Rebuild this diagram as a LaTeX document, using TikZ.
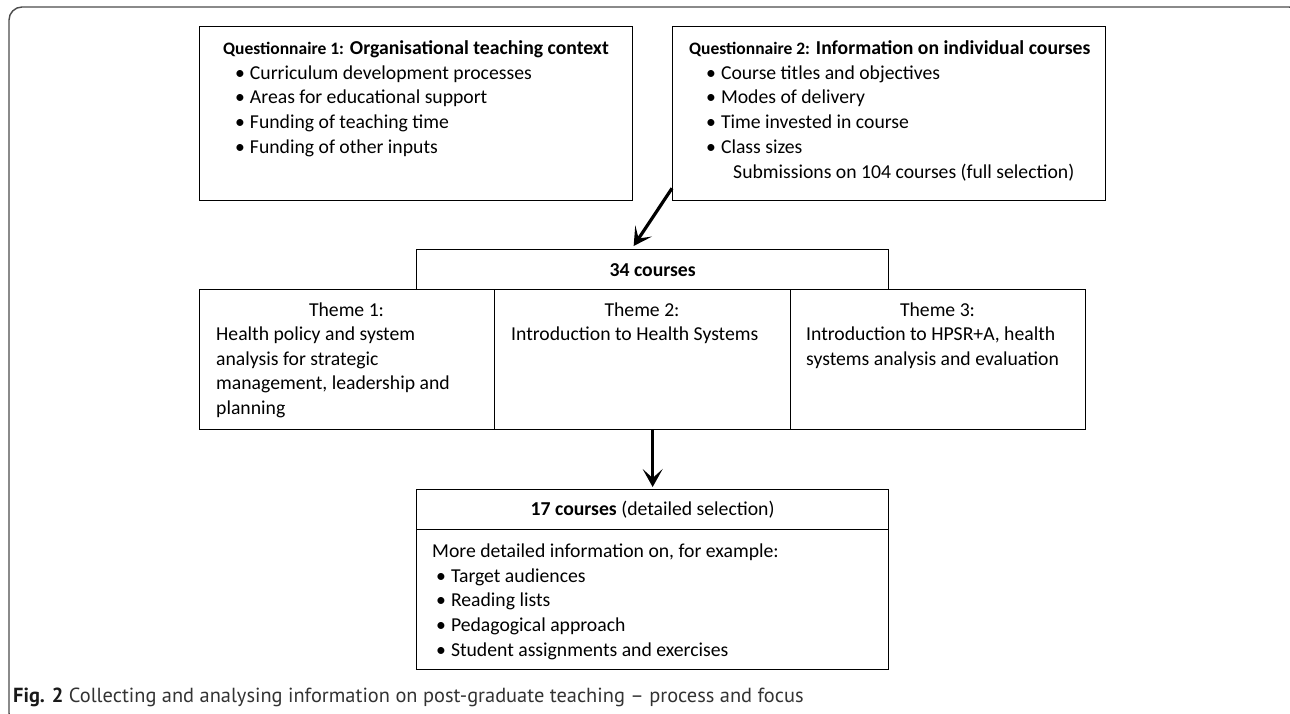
\documentclass[tikz,border=0pt]{standalone}
\usepackage{fontspec}
\setmainfont{Carlito}
\newfontfamily\capfont{PT Sans}
\usetikzlibrary{arrows.meta}

\newcommand{\bul}[1]{\hspace*{#1}\textbullet\hspace{5pt}}

\tikzset{
  box/.style={draw, line width=1.3pt, inner sep=0pt, anchor=north west,
    font={\fontsize{19.7}{24.5}\selectfont}},
  txt/.style={inner sep=0pt, anchor=north west, align=left,
    font={\fontsize{19.7}{24.5}\selectfont}},
  list/.style={txt, font={\fontsize{19.7}{24.9}\selectfont}},
  head/.style={inner sep=0pt, anchor=base, font={\fontsize{19.7}{24.5}\selectfont}},
  arr/.style={line width=3.2pt, -{Stealth[length=18pt,width=20pt,inset=9pt]}},
}

\begin{document}
\begin{tikzpicture}[x=1pt,y=-1pt]

\useasboundingbox (0,0) rectangle (1290,713);
\begin{scope}
\clip (0,0) rectangle (1290,713);
\draw[black!70, line width=1.4pt, rounded corners=13pt] (9,7) rectangle (1302,726);
\end{scope}

\node[box, minimum width=433pt, minimum height=174pt] (Q1) at (199,26) {};
\node[box, minimum width=433pt, minimum height=174pt] (Q2) at (672,26) {};
\node[box, minimum width=472pt, minimum height=40pt] (C34) at (416,249) {\bfseries 34 courses};
\node[box, minimum width=295pt, minimum height=140pt] (T1) at (199,289) {};
\node[box, minimum width=296pt, minimum height=140pt] (T2) at (494,289) {};
\node[box, minimum width=295pt, minimum height=140pt] (T3) at (790,289) {};
\node[box, minimum width=472pt, minimum height=40pt] (C17) at (416,489) {\textbf{17 courses} (detailed selection)};
\node[box, minimum width=472pt, minimum height=140pt] (D17) at (416,529) {};

\node[list] (q1) at (223,36.5) {\strut{\fontsize{17.5}{24.9}\selectfont\bfseries Questionnaire 1:} \textbf{Organisational teaching context}\\
  \bul{12pt}Curriculum development processes\\
  \bul{12pt}Areas for educational support\\
  \bul{12pt}Funding of teaching time\\
  \bul{12pt}Funding of other inputs};
\node[list] (q2) at (689,36.5) {\strut{\fontsize{17.5}{24.9}\selectfont\bfseries Questionnaire 2:} \textbf{Information on individual courses}\\
  \bul{17pt}Course titles and objectives\\
  \bul{17pt}Modes of delivery\\
  \bul{17pt}Time invested in course\\
  \bul{17pt}Class sizes\\
  \hspace*{44pt}Submissions on 104 courses (full selection)};

\node[head] (t1) at (346.5,316) {Theme 1:};
\node[head] (t2) at (642,316) {Theme 2:};
\node[head] (t3) at (937.5,316) {Theme 3:};
\node[txt] (b1) at (216,323.3) {\strut Health policy and system\\ analysis for strategic\\ management, leadership and\\ planning};
\node[txt] (b2) at (511,323.3) {\strut Introduction to Health Systems};
\node[txt] (b3) at (806,323.3) {\strut Introduction to HPSR+A, health\\ systems analysis and evaluation};

\node[list] (d17) at (432,539.5) {\strut More detailed information on, for example:\\
  \bul{4pt}Target audiences\\
  \bul{4pt}Reading lists\\
  \bul{4pt}Pedagogical approach\\
  \bul{4pt}Student assignments and exercises};

\draw[arr] ([yshift=13pt]Q2.south west) -- ([xshift=-19pt,yshift=3pt]C34.north);
\draw[arr, shorten >=2pt] (C17.north |- T2.south) -- (C17.north);

\node[anchor=base west, inner sep=0pt, text=black!80, font={\capfont\fontsize{20.4}{24}\selectfont}] (cap) at (13,702)
  {\textcolor{black!90}{\bfseries Fig. 2} Collecting and analysing information on post-graduate teaching – process and focus};

\end{tikzpicture}
\end{document}
